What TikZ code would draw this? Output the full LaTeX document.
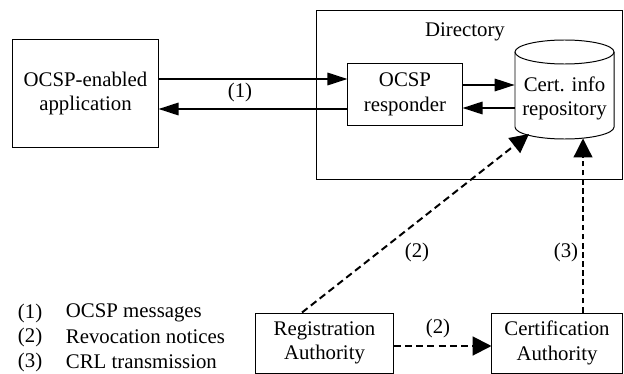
\documentclass[tikz,border=0pt]{standalone}
\usepackage{fontspec}
\setmainfont{Liberation Serif}
\usetikzlibrary{arrows.meta}

\tikzset{
  box/.style={draw,line width=0.7pt,align=center,inner sep=1pt},
  arr/.style={line width=1.4pt,-{Triangle[length=5mm,width=3.1mm]}},
  dasharr/.style={line width=1.4pt,dash pattern=on 5pt off 3pt,-{Triangle[length=4.7mm,width=4.7mm]}},
  thinarr/.style={line width=0.9pt,dash pattern=on 4pt off 2.5pt,-{Triangle[length=4.7mm,width=4.7mm]}},
}

\begin{document}
\begin{tikzpicture}[x=0.025cm,y=-0.025cm,font=\fontsize{14.8}{17.5}\selectfont]
\useasboundingbox (0,0) rectangle (624,374);

\node[box,minimum width=3.625cm,minimum height=2.675cm] (app) at (85.5,93.5) {OCSP-enabled\\application};

% directory and what is in it
\node[box,minimum width=7.625cm,minimum height=4.2cm] (dir) at (469.5,95) {};
\node (dirlbl) at (465,32) {Directory};
\node[box,minimum width=2.85cm,minimum height=1.525cm] (resp) at (405,94.5) {OCSP\\responder};

% the cylinder
\node[align=center,minimum width=2.475cm] (repo) at (564.5,98.5) {Cert. info\\repository};
\draw[line width=0.7pt] (564.5,52) ellipse [x radius=1.2375cm,y radius=0.3cm];
\draw[line width=0.7pt] (515,52) -- (515,127) arc [start angle=180,end angle=360,x radius=1.2375cm,y radius=0.3cm] -- (614,52);

\node[box,minimum width=3.425cm,minimum height=1.5cm] (ra) at (324.5,343) {Registration\\Authority};
\node[box,minimum width=3.25cm,minimum height=1.5cm] (ca) at (557,343) {Certification\\Authority};

\coordinate (repoin) at (529,134);
\coordinate (repobot) at (583,138.5);

\draw[arr] (app.east |- 0,79) -- (resp.west |- 0,79);
\draw[arr] (resp.west |- 0,109) -- (app.east |- 0,109);
\draw[arr] (resp.east |- 0,85) -- (repo.west |- 0,85);
\draw[arr] (repo.west |- 0,108) -- (resp.east |- 0,108);

\draw[dasharr] (ra.north -| 302,0) -- (repoin);
\draw[dasharr] (ra.east |- 0,346) -- (ca.west |- 0,346);
\draw[thinarr] (ca.north -| repobot) -- (repobot);

\node (l1) at (240,92) {(1)};
\node (l2) at (417,252) {(2)};
\node (l3) at (566,252) {(3)};
\node (l4) at (438,328) {(2)};

% legend
\node[anchor=west] (k1) at (13,313) {(1)};
\node[anchor=west] (k2) at (13,337) {(2)};
\node[anchor=west] (k3) at (13,362) {(3)};
\node[anchor=west] (t1) at (61,313) {OCSP messages};
\node[anchor=west] (t2) at (61,337) {Revocation notices};
\node[anchor=west] (t3) at (61,362) {CRL transmission};

\end{tikzpicture}
\end{document}
